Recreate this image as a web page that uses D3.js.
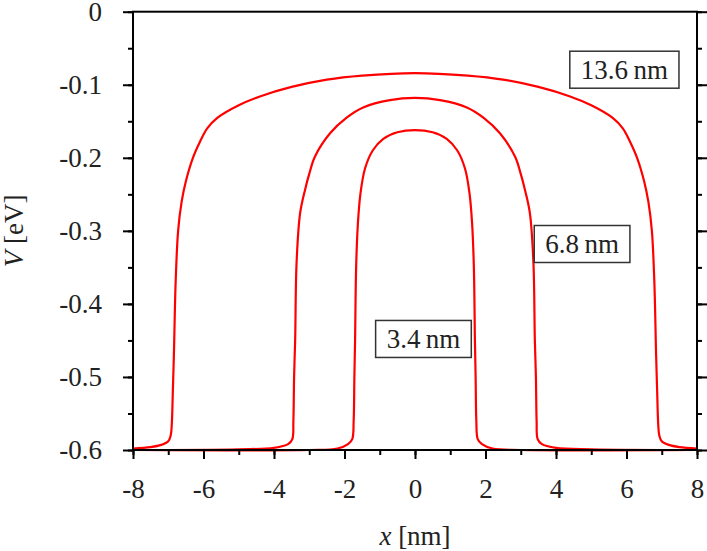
<!DOCTYPE html>
<head>
	<meta charset="utf-8">
	<script src="https://d3js.org/d3.v7.min.js"></script>
	<style>
		body { margin: 0; background: #fff; }
		text { font-family: "Liberation Serif", serif; fill: #222; }
	</style>
</head>
<body>
	<svg id="chart" width="707" height="551"></svg>
	<script>

	// potential profiles: [x (nm), V (eV)]
	var well136 = [[-8,-0.598],[-7.5,-0.596],[-7.2,-0.593],[-7.0,-0.588],[-6.93,-0.58],[-6.9,-0.565],[-6.87,-0.52],
		[-6.84,-0.47],[-6.79,-0.37],[-6.72,-0.30],[-6.62,-0.26],[-6.5,-0.232],[-6.3,-0.200],[-6.1,-0.178],
		[-5.9,-0.160],[-5.6,-0.145],[-5.0,-0.128],[-4.4,-0.116],[-3.5,-0.103],[-2.5,-0.093],[-1.5,-0.0875],[0,-0.084],
		[1.5,-0.0875],[2.5,-0.093],[3.5,-0.103],[4.4,-0.116],[5.0,-0.128],[5.6,-0.145],[5.9,-0.160],
		[6.1,-0.178],[6.3,-0.200],[6.5,-0.232],[6.62,-0.26],[6.72,-0.30],[6.79,-0.37],[6.84,-0.47],[6.87,-0.52],
		[6.9,-0.565],[6.93,-0.58],[7.0,-0.588],[7.2,-0.593],[7.5,-0.596],[8,-0.598]];

	var well68 = [[-8,-0.6],[-5,-0.599],[-4,-0.597],[-3.6,-0.592],[-3.48,-0.585],[-3.45,-0.56],[-3.43,-0.50],
		[-3.40,-0.45],[-3.36,-0.344],[-3.26,-0.276],[-3.12,-0.244],[-3.0,-0.222],[-2.84,-0.1985],[-2.41,-0.1665],
		[-1.94,-0.145],[-1.47,-0.131],[-0.71,-0.121],[0,-0.118],
		[0.71,-0.121],[1.47,-0.131],[1.94,-0.145],[2.41,-0.1665],[2.84,-0.1985],[3.0,-0.222],[3.12,-0.244],
		[3.26,-0.276],[3.36,-0.344],[3.40,-0.45],[3.43,-0.50],[3.45,-0.56],[3.48,-0.585],[3.6,-0.592],
		[4,-0.597],[5,-0.599],[8,-0.6]];

	var well34 = [[-8,-0.6],[-3,-0.6],[-2.2,-0.598],[-1.9,-0.592],[-1.78,-0.585],[-1.74,-0.56],[-1.72,-0.50],
		[-1.70,-0.45],[-1.67,-0.35],[-1.62,-0.29],[-1.55,-0.25],[-1.42,-0.215],[-1.2,-0.19],[-0.9,-0.174],
		[-0.5,-0.165],[0,-0.162],
		[0.5,-0.165],[0.9,-0.174],[1.2,-0.19],[1.42,-0.215],[1.55,-0.25],[1.62,-0.29],[1.67,-0.35],
		[1.70,-0.45],[1.72,-0.50],[1.74,-0.56],[1.78,-0.585],[1.9,-0.592],[2.2,-0.598],[3,-0.6],[8,-0.6]];

	var wells = [well136, well68, well34];
	var wellLabels = ["13.6\u2009nm", "6.8\u2009nm", "3.4\u2009nm"];
	// label anchor in data coords [x, V]
	var labelAt = [[5.94,-0.0794],[4.74,-0.318],[0.24,-0.448]];

	var xTicks = [-8,-6,-4,-2,0,2,4,6,8];
	var yTicks = [0,-0.1,-0.2,-0.3,-0.4,-0.5,-0.6];
	var xTickLabels = ["-8","-6","-4","-2","0","2","4","6","8"];
	var yTickLabels = ["0","-0.1","-0.2","-0.3","-0.4","-0.5","-0.6"];

	var svg = d3.select("#chart");
	var mLeft = 133, mRight = 697, mTop = 11.7, mBottom = 450;
	var fs = "27px";

	var x = d3.scaleLinear().domain([-8, 8]).range([mLeft, mRight]);
	var y = d3.scaleLinear().domain([-0.6, 0]).range([mBottom, mTop]);

	var minorX = d3.range(-8, 8.01, 1);
	var minorY = d3.range(0, 13).map(function(i) { return -0.6 + i * 0.05; });

	// curves
	var line = d3.line()
		.x(function(d) { return x(d[0]); })
		.y(function(d) { return y(d[1]); })
		.curve(d3.curveCatmullRom.alpha(0.5));

	svg.append("g")
		.selectAll("path")
		.data(wells)
		.enter()
		.append("path")
		.attr("d", line)
		.attr("fill", "none")
		.attr("stroke", "#ff0000")
		.attr("stroke-width", 2.2);

	// frame
	svg.append("rect")
		.attr("x", mLeft).attr("y", mTop)
		.attr("width", mRight - mLeft).attr("height", mBottom - mTop)
		.attr("fill", "none").attr("stroke", "#000").attr("stroke-width", 2);

	// axes, ticks pointing out
	function styleAxis(g) {
		g.select(".domain").remove();
		g.selectAll(".tick line").attr("stroke", "#000").attr("stroke-width", 2);
		g.selectAll(".tick text").style("font-size", fs).attr("fill", "#222");
	}

	svg.append("g").attr("transform", "translate(0," + mBottom + ")")
		.call(d3.axisBottom(x).tickValues(minorX).tickSize(5).tickFormat(""))
		.call(styleAxis);
	svg.append("g").attr("transform", "translate(0," + mBottom + ")")
		.call(d3.axisBottom(x).tickValues(xTicks).tickSize(9).tickPadding(20)
			.tickFormat(function(d, i) { return xTickLabels[i]; }))
		.call(styleAxis);

	svg.append("g").attr("transform", "translate(" + mLeft + ",0)")
		.call(d3.axisLeft(y).tickValues(minorY).tickSize(5).tickFormat(""))
		.call(styleAxis);
	svg.append("g").attr("transform", "translate(" + mLeft + ",0)")
		.call(d3.axisLeft(y).tickValues(yTicks).tickSize(10).tickPadding(21)
			.tickFormat(function(d, i) { return yTickLabels[i]; }))
		.call(styleAxis);

	svg.append("g").attr("transform", "translate(" + mRight + ",0)")
		.call(d3.axisRight(y).tickValues(minorY).tickSize(5).tickFormat(""))
		.call(styleAxis);
	svg.append("g").attr("transform", "translate(" + mRight + ",0)")
		.call(d3.axisRight(y).tickValues(yTicks).tickSize(10).tickFormat(""))
		.call(styleAxis);

	// axis titles
	var xt = svg.append("text")
		.attr("x", x(0)).attr("y", 545)
		.attr("text-anchor", "middle")
		.style("font-size", fs);
	xt.append("tspan").style("font-style", "italic").text("x");
	xt.append("tspan").text(" [nm]");

	var yt = svg.append("text")
		.attr("transform", "translate(23," + y(-0.3) + ") rotate(-90)")
		.attr("text-anchor", "middle")
		.style("font-size", fs);
	yt.append("tspan").style("font-style", "italic").text("V");
	yt.append("tspan").text(" [eV]");

	// boxed labels
	var lab = svg.append("g")
		.selectAll("g")
		.data(wellLabels)
		.enter()
		.append("g")
		.attr("transform", function(d, i) {
			return "translate(" + x(labelAt[i][0]) + "," + y(labelAt[i][1]) + ")";
		});
	lab.append("text")
		.attr("text-anchor", "middle")
		.attr("dy", "0.35em")
		.style("font-size", fs)
		.text(function(d) { return d; });
	lab.each(function() {
		var g = d3.select(this);
		var b = g.select("text").node().getBBox();
		g.insert("rect", "text")
			.attr("x", b.x - 11).attr("y", -18.5)
			.attr("width", b.width + 22).attr("height", 37)
			.attr("fill", "#fff").attr("stroke", "#333").attr("stroke-width", 1.5);
	});

</script>
</body>
</html>
